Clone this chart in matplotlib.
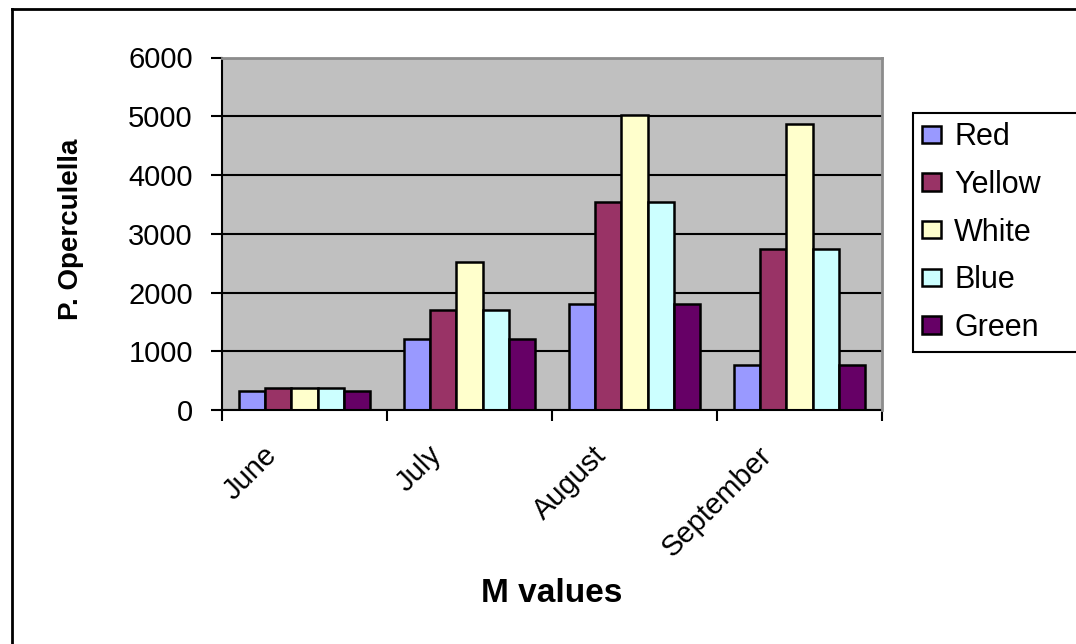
import numpy as np
import matplotlib
matplotlib.use("Agg")
import matplotlib.pyplot as plt
import matplotlib.transforms as mtransforms
from matplotlib.lines import Line2D
from matplotlib.ticker import FixedLocator, NullFormatter

# Monthly counts of P. operculella by trap colour
months = ["June", "July", "August", "September"]
series_names = ["Red", "Yellow", "White", "Blue", "Green"]
red = [320, 1210, 1800, 770]
yellow = [380, 1700, 3540, 2735]
white = [380, 2520, 5020, 4870]
blue = [380, 1700, 3540, 2735]
green = [320, 1210, 1800, 770]
y_ticks = [0, 1000, 2000, 3000, 4000, 5000, 6000]

values = [red, yellow, white, blue, green]
colors = ["#9999FF", "#993366", "#FFFFCC", "#CCFFFF", "#660066"]

plt.rcParams["font.family"] = ["Liberation Sans", "DejaVu Sans"]

W, H = 1076, 644
fig = plt.figure(figsize=(W / 100, H / 100), dpi=100)
fig.patch.set_facecolor("white")

ax_l, ax_r, ax_t, ax_b = 222, 882, 57.5, 410
ax = fig.add_axes([ax_l / W, 1 - ax_b / H, (ax_r - ax_l) / W, (ax_b - ax_t) / H])
ax.set_facecolor("#C0C0C0")

n = len(series_names)
group = 0.79
bw = group / n
centers = np.arange(len(months)) + 0.5
for i, (name, vals, col) in enumerate(zip(series_names, values, colors)):
    offs = (i - (n - 1) / 2) * bw
    ax.bar(centers + offs, vals, width=bw, color=col, edgecolor="black",
           linewidth=1.8, label=name, zorder=2)

ax.set_xlim(0, len(months))
ax.set_ylim(0, 6000)

# horizontal gridlines
ax.set_axisbelow(True)
ax.yaxis.grid(True, color="black", linewidth=1.5)
ax.xaxis.grid(False)

# spines
for s in ["left", "bottom"]:
    ax.spines[s].set_color("black")
    ax.spines[s].set_linewidth(1.5)
for s in ["top", "right"]:
    ax.spines[s].set_color("#8C8C8C")
    ax.spines[s].set_linewidth(2.0)
    ax.spines[s].set_zorder(3)

# y axis
ax.set_yticks(y_ticks)
ax.set_yticklabels([str(v) for v in y_ticks])
ax.tick_params(axis="y", direction="out", length=8, width=1.5, pad=13,
               labelsize=21, colors="black")

# x axis: tick marks at category boundaries, labels at category centres
ax.xaxis.set_minor_locator(FixedLocator(np.arange(len(months) + 1)))
ax.xaxis.set_minor_formatter(NullFormatter())
ax.set_xticks(centers)
ax.set_xticklabels(months)
ax.tick_params(axis="x", which="minor", direction="out", length=8, width=1.5)
ax.tick_params(axis="x", which="major", length=0, pad=0, labelsize=21)

shift = mtransforms.ScaledTranslation(-42 / 100, -31 / 100, fig.dpi_scale_trans)
for lab in ax.get_xticklabels():
    lab.set_rotation(45)
    lab.set_rotation_mode("anchor")
    lab.set_ha("right")
    lab.set_va("top")
    lab.set_transform(lab.get_transform() + shift)

# axis titles
ax.set_ylabel("P. Operculella", fontsize=20, fontweight="bold")
ax.yaxis.set_label_coords((71 - ax_l) / (ax_r - ax_l), (ax_b - 229) / (ax_b - ax_t))
ax.yaxis.label.set_va("center")
ax.set_xlabel("M values", fontsize=24, fontweight="bold")
ax.xaxis.set_label_coords((552 - ax_l) / (ax_r - ax_l), (ax_b - 593) / (ax_b - ax_t))
ax.xaxis.label.set_va("center")

# legend, extending past the right edge of the figure
leg = fig.legend(loc="upper left",
                 bbox_to_anchor=(913 / W, 1 - 113 / H, 200 / W, 0.0),
                 mode="expand", fontsize=22, frameon=True, fancybox=False,
                 edgecolor="black", framealpha=1, borderpad=0.3,
                 labelspacing=0.58, handlelength=0.6, handleheight=0.5,
                 handletextpad=0.45, borderaxespad=0)
leg.get_frame().set_linewidth(1.5)
for h in leg.legend_handles:
    h.set_linewidth(1.8)

# outer chart frame
fx = 12 / W
fy = 1 - 9 / H
fig.add_artist(Line2D([fx, fx], [0, fy], transform=fig.transFigure, color="black", linewidth=2))
fig.add_artist(Line2D([fx, 1.0], [fy, fy], transform=fig.transFigure, color="black", linewidth=2))

fig.savefig("out.png", dpi=100)
